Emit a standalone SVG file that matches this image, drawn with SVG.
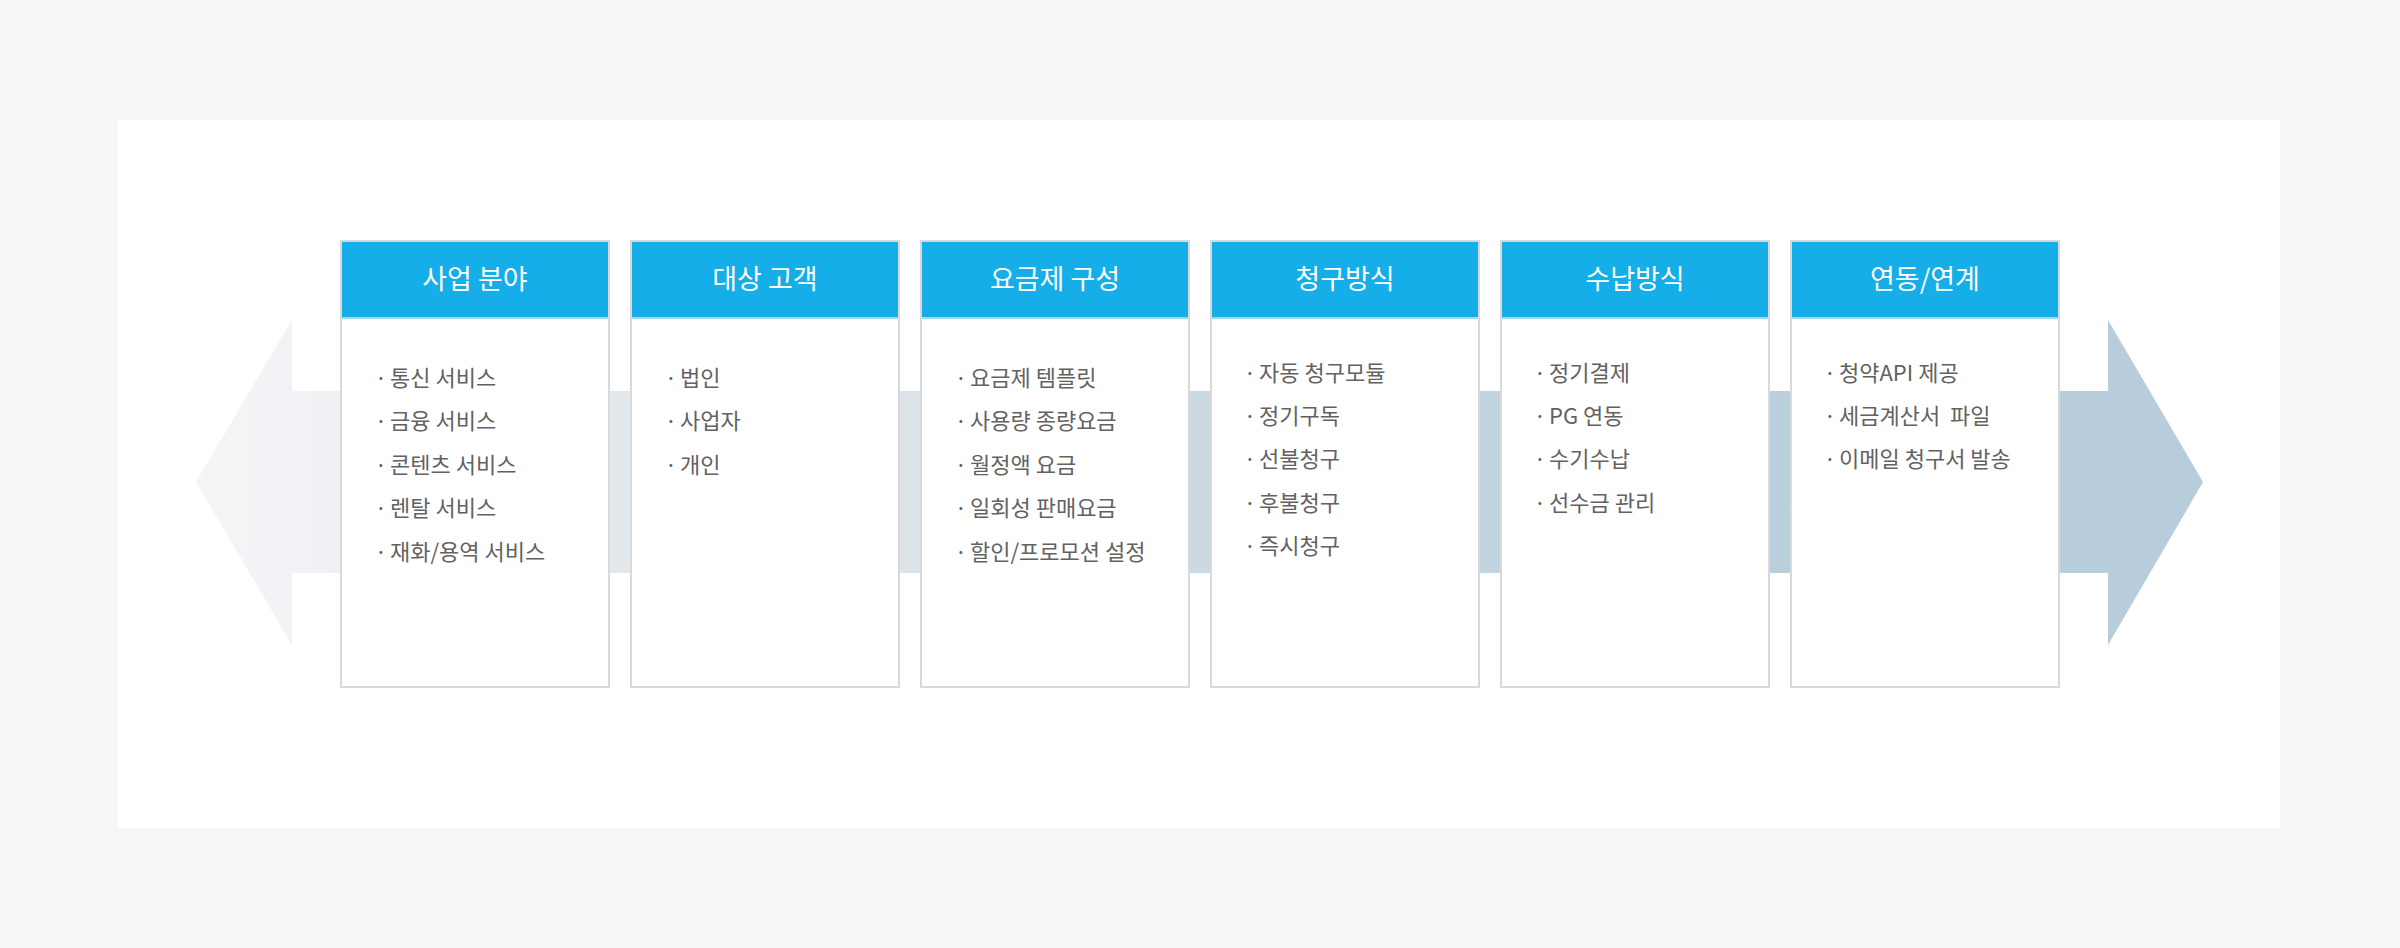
<svg xmlns="http://www.w3.org/2000/svg" width="2400" height="948" viewBox="0 0 2400 948">
<defs>
<linearGradient id="arrowGrad" gradientUnits="userSpaceOnUse" x1="196" y1="0" x2="2203" y2="0">
<stop offset="0" stop-color="#f4f5f7"/>
<stop offset="0.211" stop-color="#e3e8ec"/>
<stop offset="0.356" stop-color="#dce3e8"/>
<stop offset="0.5" stop-color="#cbd9e2"/>
<stop offset="0.645" stop-color="#c1d3de"/>
<stop offset="0.789" stop-color="#bacedb"/>
<stop offset="1" stop-color="#b8cddb"/>
</linearGradient>
<style>
.box{fill:#ffffff;stroke:#d9d9d9;stroke-width:2}
.head{fill:#15aee8}
.headline{stroke:#a6d6ea;stroke-width:2}
.title{font-family:"Noto Sans CJK KR","Noto Sans",sans-serif;font-size:27px;fill:#ffffff;text-anchor:middle}
.item{font-family:"Noto Sans CJK KR","Noto Sans",sans-serif;font-size:22px;fill:#626262}
.dot{font-family:"Noto Sans CJK KR","Noto Sans",sans-serif;font-size:22px;fill:#626262;text-anchor:middle}
</style>
</defs>
<rect x="0" y="0" width="2400" height="948" fill="#f5f6f8"/>
<rect x="118" y="120" width="2162" height="708" fill="#ffffff"/>
<g id="connectors">
<polygon points="196,482 292,320 292,391 2108,391 2108,320 2203,482 2108,645 2108,573 292,573 292,645" fill="url(#arrowGrad)"/>
</g>
<g id="node-business">
<rect class="box" x="341" y="241" width="268" height="446"/>
<rect class="head" x="342" y="242" width="266" height="75"/>
<line class="headline" x1="342" y1="318" x2="608" y2="318"/>
<text class="title" x="475" y="289">사업 분야</text>
<text class="dot" x="381" y="386">·</text><text class="item" x="390" y="386">통신 서비스</text>
<text class="dot" x="381" y="429">·</text><text class="item" x="390" y="429">금융 서비스</text>
<text class="dot" x="381" y="473">·</text><text class="item" x="390" y="473">콘텐츠 서비스</text>
<text class="dot" x="381" y="516">·</text><text class="item" x="390" y="516">렌탈 서비스</text>
<text class="dot" x="381" y="560">·</text><text class="item" x="390" y="560">재화/용역 서비스</text>
</g>
<g id="node-customer">
<rect class="box" x="631" y="241" width="268" height="446"/>
<rect class="head" x="632" y="242" width="266" height="75"/>
<line class="headline" x1="632" y1="318" x2="898" y2="318"/>
<text class="title" x="765" y="289">대상 고객</text>
<text class="dot" x="671" y="386">·</text><text class="item" x="680" y="386">법인</text>
<text class="dot" x="671" y="429">·</text><text class="item" x="680" y="429">사업자</text>
<text class="dot" x="671" y="473">·</text><text class="item" x="680" y="473">개인</text>
</g>
<g id="node-plan">
<rect class="box" x="921" y="241" width="268" height="446"/>
<rect class="head" x="922" y="242" width="266" height="75"/>
<line class="headline" x1="922" y1="318" x2="1188" y2="318"/>
<text class="title" x="1055" y="289">요금제 구성</text>
<text class="dot" x="961" y="386">·</text><text class="item" x="970" y="386">요금제 템플릿</text>
<text class="dot" x="961" y="429">·</text><text class="item" x="970" y="429">사용량 종량요금</text>
<text class="dot" x="961" y="473">·</text><text class="item" x="970" y="473">월정액 요금</text>
<text class="dot" x="961" y="516">·</text><text class="item" x="970" y="516">일회성 판매요금</text>
<text class="dot" x="961" y="560">·</text><text class="item" x="970" y="560">할인/프로모션 설정</text>
</g>
<g id="node-billing">
<rect class="box" x="1211" y="241" width="268" height="446"/>
<rect class="head" x="1212" y="242" width="266" height="75"/>
<line class="headline" x1="1212" y1="318" x2="1478" y2="318"/>
<text class="title" x="1345" y="289">청구방식</text>
<text class="dot" x="1250" y="381">·</text><text class="item" x="1259" y="381">자동 청구모듈</text>
<text class="dot" x="1250" y="424">·</text><text class="item" x="1259" y="424">정기구독</text>
<text class="dot" x="1250" y="467">·</text><text class="item" x="1259" y="467">선불청구</text>
<text class="dot" x="1250" y="511">·</text><text class="item" x="1259" y="511">후불청구</text>
<text class="dot" x="1250" y="554">·</text><text class="item" x="1259" y="554">즉시청구</text>
</g>
<g id="node-payment">
<rect class="box" x="1501" y="241" width="268" height="446"/>
<rect class="head" x="1502" y="242" width="266" height="75"/>
<line class="headline" x1="1502" y1="318" x2="1768" y2="318"/>
<text class="title" x="1635" y="289">수납방식</text>
<text class="dot" x="1540" y="381">·</text><text class="item" x="1549" y="381">정기결제</text>
<text class="dot" x="1540" y="424">·</text><text class="item" x="1549" y="424">PG 연동</text>
<text class="dot" x="1540" y="467">·</text><text class="item" x="1549" y="467">수기수납</text>
<text class="dot" x="1540" y="511">·</text><text class="item" x="1549" y="511">선수금 관리</text>
</g>
<g id="node-integration">
<rect class="box" x="1791" y="241" width="268" height="446"/>
<rect class="head" x="1792" y="242" width="266" height="75"/>
<line class="headline" x1="1792" y1="318" x2="2058" y2="318"/>
<text class="title" x="1925" y="289">연동/연계</text>
<text class="dot" x="1830" y="381">·</text><text class="item" x="1839" y="381">청약API 제공</text>
<text class="dot" x="1830" y="424">·</text><text class="item" x="1839" y="424" xml:space="preserve">세금계산서  파일</text>
<text class="dot" x="1830" y="467">·</text><text class="item" x="1839" y="467">이메일 청구서 발송</text>
</g>
</svg>
